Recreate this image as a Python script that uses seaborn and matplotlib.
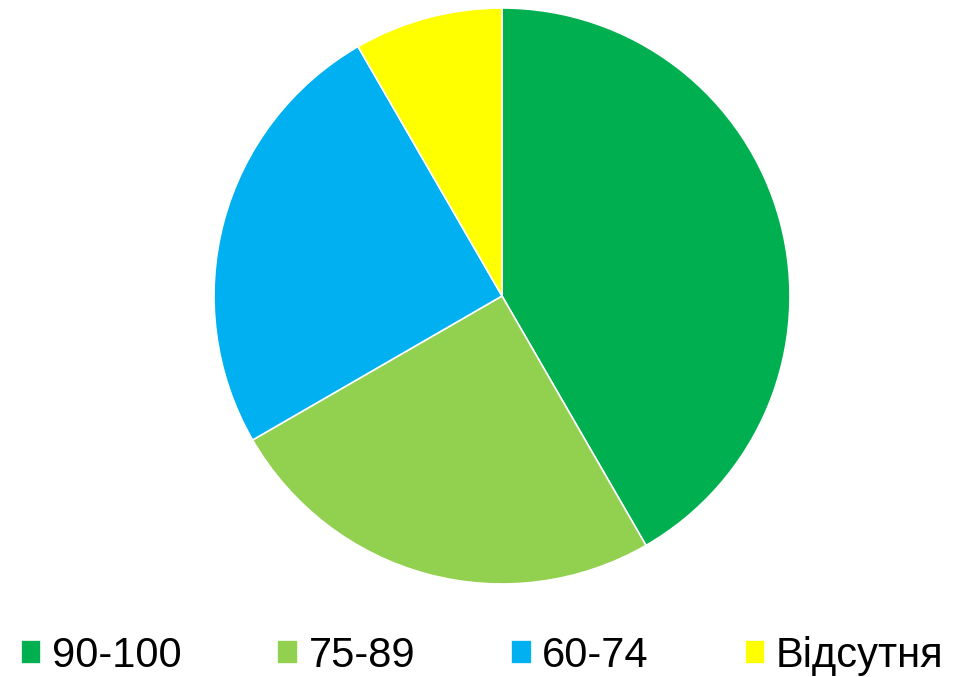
import matplotlib
matplotlib.use('Agg')
import matplotlib.pyplot as plt
import seaborn as sns

# Data
labels = ['90-100', '75-89', '60-74', 'Відсутня']
values = [5, 3, 3, 1]
colors = ['#00B050', '#92D050', '#00B0F0', '#FFFF00']

sns.set_theme(style='white')
plt.rcParams['font.family'] = ['Liberation Sans', 'DejaVu Sans']

fig = plt.figure(figsize=(9.64, 6.77), dpi=100)
ax = fig.add_axes([0.222, 0.1374, 0.5975, 0.8508])

wedges, _ = ax.pie(values, colors=colors, startangle=90, counterclock=False,
                   wedgeprops=dict(edgecolor='white', linewidth=1.2))
ax.set_xlim(-1, 1)
ax.set_ylim(-1, 1)
ax.set_axis_off()

fig.legend(wedges, labels, loc='lower center', bbox_to_anchor=(0.5, -0.054),
           ncol=4, frameon=False, fontsize=30, handlelength=0.5,
           handleheight=0.5, handletextpad=0.25, columnspacing=2.3,
           labelcolor='black')

fig.savefig('out.png', dpi=100)
